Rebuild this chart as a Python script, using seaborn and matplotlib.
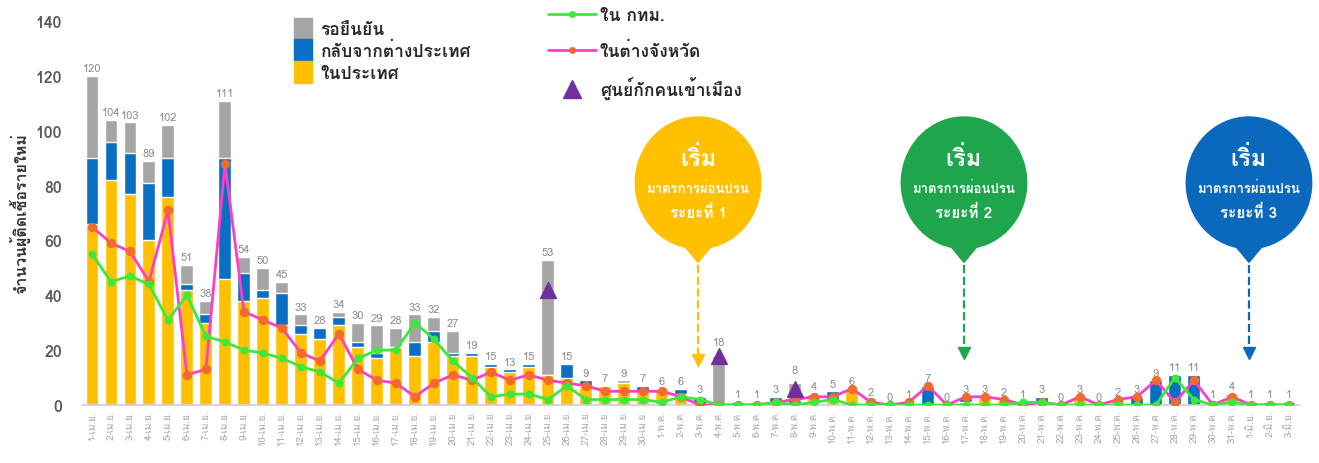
import numpy as np
import pandas as pd
import seaborn as sns
import matplotlib
matplotlib.use("Agg")
import matplotlib.pyplot as plt
from matplotlib import font_manager
from matplotlib.patches import Ellipse, Polygon, Patch
from matplotlib.lines import Line2D

# ข้อมูลผู้ติดเชื้อรายใหม่ 1 เม.ย. - 3 มิ.ย.
dates = ([f"{d}-เม.ย." for d in range(1, 31)] +
         [f"{d}-พ.ค." for d in range(1, 32)] +
         [f"{d}-มิ.ย." for d in range(1, 4)])

domestic = [66, 82, 77, 60, 76, 42, 30, 46, 38, 39, 29, 26, 24, 29, 21, 17, 21, 18, 23, 18,
            18, 14, 12, 14, 11, 10, 7, 7, 8, 5,
            6, 4, 0, 0, 0, 0, 0, 0, 4, 2, 6, 2, 0, 1, 0, 0, 1, 3, 2, 1,
            1, 0, 3, 0, 2, 0, 0, 0, 0, 1, 3,
            0, 0, 0]
abroad = [24, 14, 15, 21, 14, 2, 3, 44, 10, 3, 12, 3, 4, 3, 2, 2, 0, 5, 4, 1,
          1, 1, 1, 1, 0, 5, 2, 0, 0, 2,
          0, 2, 3, 0, 1, 1, 3, 2, 0, 3, 0, 0, 0, 0, 7, 0, 2, 0, 0, 0,
          2, 0, 0, 0, 0, 3, 9, 11, 11, 0, 0,
          1, 1, 1]
pending = [30, 8, 11, 8, 12, 7, 5, 21, 6, 8, 4, 4, 0, 2, 7, 10, 7, 10, 5, 8,
           0, 0, 0, 0, 42, 0, 0, 0, 1, 0,
           0, 0, 0, 18, 0, 0, 0, 6, 0, 0, 0, 0, 0, 0, 0, 0, 0, 0, 0, 0,
           0, 0, 0, 0, 0, 0, 0, 0, 0, 0, 1,
           0, 0, 0]
bkk = [55, 45, 47, 44, 31, 40, 25, 23, 20, 19, 17, 14, 12, 8, 17, 20, 20, 30, 24, 16,
       10, 3, 4, 4, 2, 7, 2, 2, 2, 2,
       1, 3, 2, 0, 0, 0, 1, 0, 1, 2, 0, 0, 0, 0, 0, 0, 0, 0, 0, 1,
       1, 0, 0, 0, 0, 0, 0, 10, 2, 0, 1,
       0, 0, 0]
province = [65, 59, 56, 45, 71, 11, 13, 88, 34, 31, 28, 19, 16, 26, 13, 9, 8, 3, 8, 11,
            9, 12, 9, 11, 9, 8, 7, 5, 5, 5,
            5, 3, 0, 0, 0, 0, 1, 2, 3, 3, 6, 1, 0, 1, 7, 0, 3, 3, 2, 0,
            1, 0, 3, 0, 2, 3, 9, 1, 9, 0, 3,
            0, 0, 0]
# ศูนย์กักคนเข้าเมือง
detention_dates = ["25-เม.ย.", "4-พ.ค.", "8-พ.ค."]
detention = [42, 18, 6]

# ฟอนต์ภาษาไทย
thai_font = None
try:
    from fontTools.ttLib import TTFont
    for f in font_manager.fontManager.ttflist:
        try:
            cmap = TTFont(f.fname, fontNumber=0, lazy=True).getBestCmap()
            if cmap and 0x0E01 in cmap and 0x0E34 in cmap:
                thai_font = f.name
                break
        except Exception:
            pass
except Exception:
    pass

sns.set_theme(style="white")
plt.rcParams['font.family'] = ([thai_font] if thai_font else []) + ['DejaVu Sans']

df = pd.DataFrame({"date": dates, "domestic": domestic, "abroad": abroad,
                   "pending": pending, "bkk": bkk, "province": province})
df["total"] = df[["domestic", "abroad", "pending"]].sum(axis=1)
df["dom_abr"] = df["domestic"] + df["abroad"]
pos = np.arange(len(df))

c_gray, c_blue, c_yellow = "#A5A5A5", "#0A6FC2", "#FFC000"
c_green, c_pink, c_orange, c_purple = "#3DE83D", "#FF3DCB", "#F26A2E", "#7030A0"

fig = plt.figure(figsize=(13.19, 4.64), dpi=100)
ax = fig.add_axes([0.0618, 0.125, 0.924, 0.8276])

sns.barplot(data=df, x="date", y="total", color=c_gray, width=0.68, saturation=1, ax=ax)
sns.barplot(data=df, x="date", y="dom_abr", color=c_blue, width=0.68, saturation=1, ax=ax)
sns.barplot(data=df, x="date", y="domestic", color=c_yellow, width=0.68, saturation=1, ax=ax)

labels = ax.bar_label(ax.containers[0], labels=[str(v) for v in df["total"]],
                      fontsize=8, color="#8C8C8C", padding=2)
# ยกป้ายตัวเลขเหนือสามเหลี่ยม
for d in detention_dates[1:]:
    labels[dates.index(d)].set_y(labels[dates.index(d)].get_position()[1] + 4)

sns.lineplot(x=pos, y=df["province"], color=c_pink, lw=2, marker="o", markersize=6,
             markerfacecolor=c_orange, markeredgecolor=c_orange, ax=ax, zorder=4)
sns.lineplot(x=pos, y=df["bkk"], color=c_green, lw=2, marker="o", markersize=5,
             markerfacecolor=c_green, markeredgecolor=c_green, ax=ax, zorder=5)
det_pos = [dates.index(d) for d in detention_dates]
ax.scatter(det_pos, detention, marker="^", s=130, color=c_purple, zorder=6)

ax.set_xlim(-0.55, 63.6)
ax.set_ylim(0, 140)
ax.set_yticks(range(0, 141, 20))
ax.tick_params(axis="y", length=0, pad=14, labelsize=11.5, labelcolor="#595959")
for t in ax.get_yticklabels():
    t.set_fontweight("bold")
ax.tick_params(axis="x", length=0, pad=3, labelsize=7, labelcolor="#A8A8A8", rotation=90)
ax.set_xlabel("")
ax.set_ylabel("จำนวนผู้ติดเชื้อรายใหม่", fontsize=11.5, fontweight="bold",
              color="#333333", labelpad=4)
for s in ["top", "right", "left"]:
    ax.spines[s].set_visible(False)
ax.spines["bottom"].set_color("#D0D0D0")

# บอลลูนมาตรการผ่อนปรน
phases = [("1", "3-พ.ค.", c_yellow, 15), ("2", "17-พ.ค.", "#1FA64C", 17.5),
          ("3", "1-มิ.ย.", "#0A68BD", 17.5)]
for num, d, col, tip in phases:
    cx = dates.index(d) - 0.1
    cy = 81
    ax.add_patch(Ellipse((cx, cy), 6.6, 48, color=col, zorder=7, clip_on=False))
    ax.add_patch(Polygon([[cx - 1.2, 62], [cx + 1.2, 62], [cx, 52]], color=col,
                         zorder=7, clip_on=False))
    ax.plot([cx, cx], [51, tip + 2], ls="--", lw=1.6, color=col, zorder=7)
    ax.plot([cx], [tip + 1.5], marker="v", ms=8, color=col, zorder=7)
    ax.text(cx, 90, "เริ่ม", ha="center", va="center", color="white",
            fontsize=17, fontweight="bold", zorder=8)
    ax.text(cx, 79, "มาตรการผ่อนปรน", ha="center", va="center", color="white",
            fontsize=9.5, fontweight="bold", zorder=8)
    ax.text(cx, 70.5, "ระยะที่ " + num, ha="center", va="center", color="white",
            fontsize=11, fontweight="bold", zorder=8)

# คำอธิบายสัญลักษณ์
h1 = [Patch(color=c_gray), Patch(color=c_blue), Patch(color=c_yellow)]
leg1 = fig.legend(h1, ["รอยืนยัน", "กลับจากต่างประเทศ", "ในประเทศ"],
                  loc="upper left", bbox_to_anchor=(0.218, 0.975), frameon=False,
                  handlelength=1.0, handleheight=1.55, labelspacing=0.0,
                  handletextpad=0.5, borderaxespad=0,
                  prop={"size": 12.5, "weight": "bold"})
h2 = [Line2D([0], [0], color=c_green, lw=2, marker="o", ms=4),
      Line2D([0], [0], color=c_pink, lw=2, marker="o", ms=4,
             markerfacecolor=c_orange, markeredgecolor=c_orange),
      Line2D([0], [0], color=c_purple, lw=0, marker="^", ms=13)]
leg2 = fig.legend(h2, ["ใน กทม.", "ในต่างจังหวัด", "ศูนย์กักคนเข้าเมือง"],
                  loc="upper left", bbox_to_anchor=(0.41, 0.995), frameon=False,
                  handlelength=2.8, labelspacing=1.0, handletextpad=0.2,
                  borderaxespad=0, prop={"size": 12.5, "weight": "bold"})

fig.savefig("out.png", dpi=100)
